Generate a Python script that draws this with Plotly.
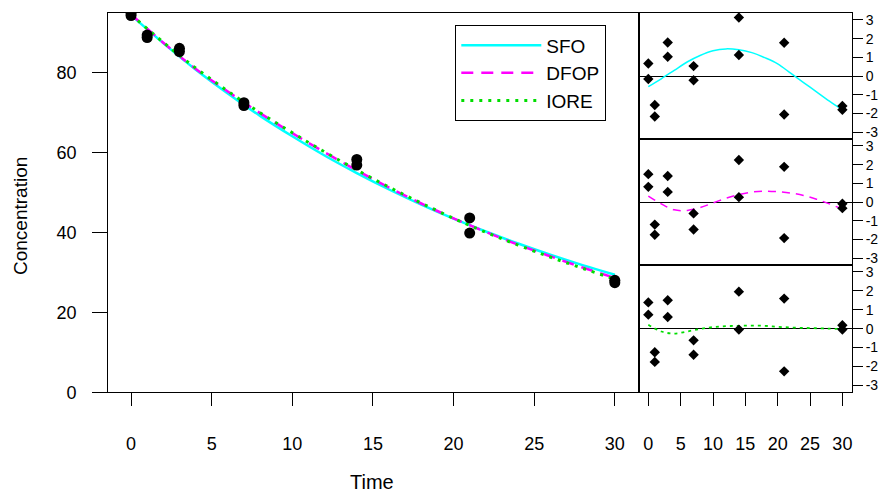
import plotly.graph_objects as go

# ---- observed data ----
obs_time = [0, 0, 1, 1, 3, 3, 7, 7, 14, 14, 21, 21, 30, 30]
obs_conc = [94.8, 94.2, 89.3, 88.7, 86.0, 85.2, 72.4, 71.7, 58.2, 56.8, 43.6, 39.8, 28.0, 27.4]

# ---- fitted curves ----
fit_time = [0, 2, 4, 6, 8, 10, 12, 14, 16, 18, 20, 22, 24, 26, 28, 30]
sfo_fit = [94.3, 87.3, 80.7, 74.7, 69.1, 64.0, 59.2, 54.8, 50.7, 46.9, 43.4, 40.2, 37.2, 34.4, 31.8, 29.4]
dfop_fit = [94.5, 87.4, 80.9, 75.2, 69.8, 64.8, 60.0, 55.5, 51.2, 47.2, 43.5, 40.1, 36.9, 34.0, 31.2, 28.6]
iore_fit = [94.4, 87.5, 81.1, 75.3, 69.9, 64.9, 60.1, 55.6, 51.3, 47.3, 43.5, 40.0, 36.8, 33.8, 31.0, 28.3]

# ---- scaled residuals ----
sfo_res = [0.67, -0.16, -1.55, -2.17, 1.79, 1.03, 0.53, -0.23, 3.13, 1.12, 1.78, -2.06, -1.60, -1.81]
dfop_res = [1.49, 0.81, -1.21, -1.75, 1.39, 0.54, -0.61, -1.47, 2.25, 0.26, 1.88, -1.93, -0.09, -0.33]
iore_res = [1.39, 0.74, -1.25, -1.76, 1.50, 0.62, -0.62, -1.38, 1.96, -0.05, 1.59, -2.26, 0.18, -0.05]

# ---- residual trend curves ----
sfo_res_curve = [-0.57, -0.15, 0.30, 0.75, 1.10, 1.35, 1.45, 1.40, 1.25, 0.98, 0.65, 0.15, -0.35, -0.85, -1.35, -1.81]
dfop_res_curve = [0.32, -0.10, -0.42, -0.45, -0.30, -0.05, 0.20, 0.40, 0.53, 0.58, 0.55, 0.48, 0.35, 0.15, -0.10, -0.39]
iore_res_curve = [0.21, -0.15, -0.26, -0.15, -0.02, 0.08, 0.13, 0.15, 0.16, 0.15, 0.10, 0.06, 0.04, 0.02, 0.00, -0.02]

x_ticks = [0, 5, 10, 15, 20, 25, 30]
y_ticks = [0, 20, 40, 60, 80]
res_ticks = [-3, -2, -1, 0, 1, 2, 3]
res_tick_labels = ["-3", "-2", "-1", "0", "1", "2", "3"]

# the page body has an 8px margin, so the figure is drawn 8px in from the corner
OFF = 8
W, H = 887 - OFF, 496 - OFF
FONT = "Liberation Sans, Arial, sans-serif"


def px(x):
    return (x - OFF) / W


def py(y):
    return 1 - (y - OFF) / H


fig = go.Figure()

fig.add_trace(go.Scatter(x=fit_time, y=sfo_fit, mode="lines", name="SFO",
                         line=dict(color="#00FFFF", width=2.5), line_shape="spline",
                         xaxis="x", yaxis="y"))
fig.add_trace(go.Scatter(x=fit_time, y=dfop_fit, mode="lines", name="DFOP",
                         line=dict(color="#FF00FF", width=2.5, dash="12px,8px"), line_shape="spline",
                         xaxis="x", yaxis="y"))
fig.add_trace(go.Scatter(x=fit_time, y=iore_fit, mode="lines", name="IORE",
                         line=dict(color="#00DD00", width=3, dash="3px,6px"), line_shape="spline",
                         xaxis="x", yaxis="y"))
fig.add_trace(go.Scatter(x=obs_time, y=obs_conc, mode="markers", showlegend=False,
                         marker=dict(color="black", size=11, symbol="circle"),
                         xaxis="x", yaxis="y"))

panels = [
    (sfo_res, sfo_res_curve, dict(color="#00FFFF", width=1.5), "2"),
    (dfop_res, dfop_res_curve, dict(color="#FF00FF", width=1.5, dash="8px,6px"), "3"),
    (iore_res, iore_res_curve, dict(color="#00DD00", width=1.8, dash="3px,4px"), "4"),
]
for res, curve, lstyle, k in panels:
    fig.add_trace(go.Scatter(x=fit_time, y=curve, mode="lines", showlegend=False,
                             line=lstyle, line_shape="spline",
                             xaxis="x" + k, yaxis="y" + k))
    fig.add_trace(go.Scatter(x=obs_time, y=res, mode="markers", showlegend=False,
                             marker=dict(color="black", size=8, symbol="diamond"),
                             xaxis="x" + k, yaxis="y" + k))

axis_common = dict(showline=True, mirror=True, linecolor="black", linewidth=1.3,
                   showgrid=False, zeroline=False, ticks="outside", tickcolor="black",
                   tickwidth=1.3, fixedrange=True, automargin=False)

main_x = [px(108.3), px(639)]
right_x = [px(639), px(851.7)]
res_font = dict(size=14)
res_axis = dict(side="right", tickvals=res_ticks, ticktext=res_tick_labels, ticklen=10,
                tickfont=res_font, range=[-3.37, 3.37],
                zeroline=True, zerolinecolor="black", zerolinewidth=1.3)

fig.update_layout(
    template="none",
    width=W, height=H, autosize=False,
    margin=dict(l=0, r=0, t=0, b=0, pad=0),
    paper_bgcolor="white", plot_bgcolor="white",
    font=dict(family=FONT, size=18, color="black"),
    showlegend=True,
    legend=dict(x=px(455), y=py(25), xanchor="left", yanchor="top",
                bordercolor="black", borderwidth=1.3, bgcolor="white",
                font=dict(size=19), itemwidth=80, tracegroupgap=0),
    xaxis=dict(axis_common, domain=main_x, anchor="y", range=[-1.41, 31.5],
               tickvals=x_ticks, ticklen=13, ticklabelstandoff=22),
    yaxis=dict(axis_common, domain=[py(392.3), py(12.7)], anchor="x", range=[0, 94.9],
               tickvals=y_ticks, ticklen=15, ticklabelstandoff=12),
    xaxis2=dict(axis_common, domain=right_x, anchor="y2", range=[-1.44, 31.44],
                showticklabels=False, ticks=""),
    yaxis2=dict(axis_common, **res_axis, domain=[py(139), py(13)], anchor="x2"),
    xaxis3=dict(axis_common, domain=right_x, anchor="y3", range=[-1.44, 31.44],
                showticklabels=False, ticks=""),
    yaxis3=dict(axis_common, **res_axis, domain=[py(265), py(139)], anchor="x3"),
    xaxis4=dict(axis_common, domain=right_x, anchor="y4", range=[-1.44, 31.44],
                tickvals=x_ticks, ticklen=13, ticklabelstandoff=22),
    yaxis4=dict(axis_common, **res_axis, domain=[py(392.3), py(265)], anchor="x4"),
    annotations=[
        dict(text="Concentration", x=px(20), y=py(216), xref="paper", yref="paper",
             xanchor="center", yanchor="middle",
             showarrow=False, textangle=-90, font=dict(size=19)),
        dict(text="Time", x=px(372), y=py(482), xref="paper", yref="paper",
             xanchor="center", yanchor="middle",
             showarrow=False, font=dict(size=20)),
    ],
)

fig.write_html("out.html")
